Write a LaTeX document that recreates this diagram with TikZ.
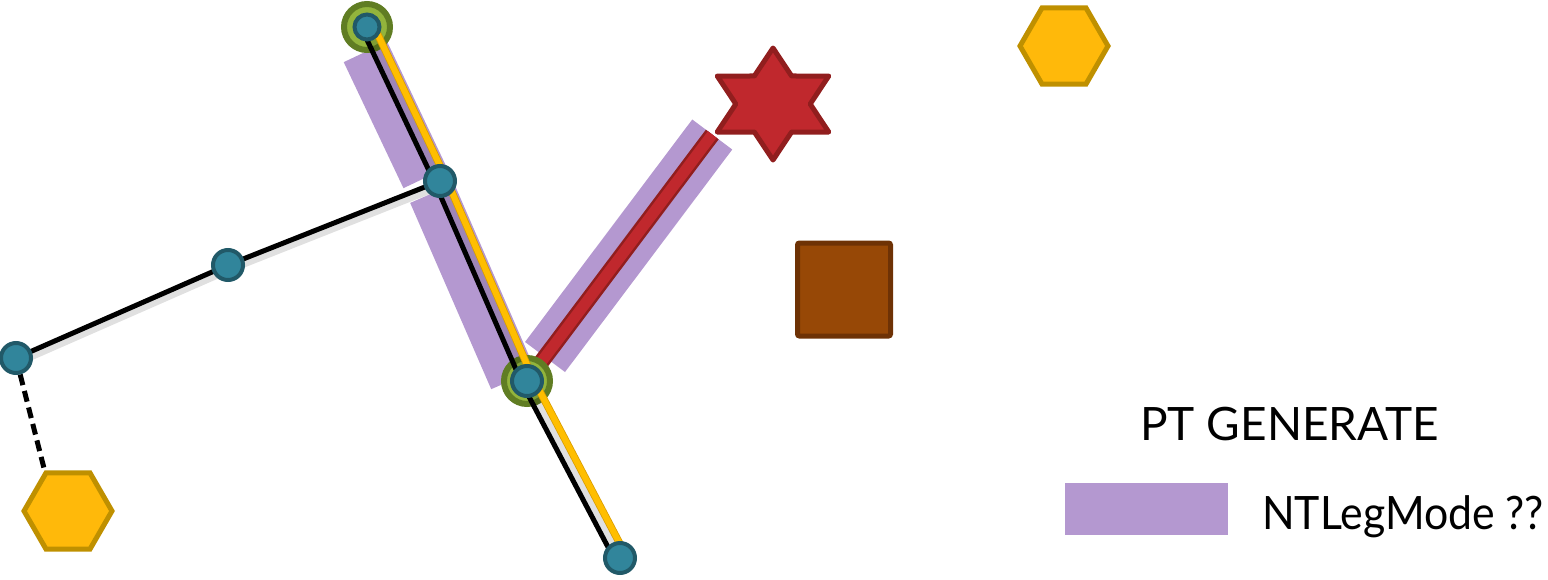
\documentclass[tikz,border=0pt]{standalone}
\usepackage{fontspec}
\setmainfont{Lato}
\usetikzlibrary{shapes.geometric,calc}
\definecolor{teal1}{RGB}{49,133,155}
\definecolor{teal2}{RGB}{33,89,104}
\definecolor{olive1}{RGB}{96,125,35}
\definecolor{olive2}{RGB}{146,180,60}
\definecolor{yel1}{RGB}{255,185,10}
\definecolor{yel2}{RGB}{191,144,0}
\definecolor{lyel1}{RGB}{255,190,0}
\definecolor{lyel2}{RGB}{215,155,0}
\definecolor{red1}{RGB}{192,40,45}
\definecolor{red2}{RGB}{145,30,30}
\definecolor{brn1}{RGB}{151,72,6}
\definecolor{brn2}{RGB}{110,50,5}
\definecolor{purp}{RGB}{180,152,208}
\pgfdeclarelayer{bg}\pgfdeclarelayer{mid}\pgfsetlayers{bg,mid,main}
\begin{document}
\begin{tikzpicture}[x=1pt,y=-1pt,
  tnode/.style={circle,fill=teal1,draw=teal2,line width=4pt,minimum size=30pt,inner sep=0pt},
  ringnode/.style={circle,fill=olive2,draw=olive1,line width=6pt,minimum size=46pt,inner sep=0pt},
  hexnode/.style={regular polygon,regular polygon sides=6,fill=yel1,draw=yel2,line width=5pt,minimum size=88pt,inner sep=0pt},
  band/.style={draw=purp,line width=48pt},
  blk/.style={draw=black,line width=5pt},
  yelline/.style={draw=lyel1,line width=6pt},
  yeledge/.style={draw=lyel2,line width=7.5pt},
  shad/.style={draw=black,opacity=0.12,line width=9pt},
  lbl/.style={inner sep=0pt,font=\fontsize{46}{56}\selectfont}]
\useasboundingbox (0,0) rectangle (1548,579);
% nodes
\node[tnode,minimum size=25pt] (A) at (367,27) {};
\node[tnode] (B) at (440,181) {};
\node[tnode] (C) at (228,265) {};
\node[tnode] (D) at (16,358) {};
\node[tnode] (E) at (527,381) {};
\node[tnode] (F) at (620,558) {};
\node[hexnode] (H1) at (68,511) {};
\node[hexnode] (H2) at (1064,46) {};
\begin{scope}[shift={(773,104)}]
\node[star,star points=6,star point ratio=1.732,minimum size=112pt,inner sep=0pt,
  fill=red1,draw=red2,line width=5pt,line join=round,xscale=1.15,transform shape] (S) at (0,0) {};
\end{scope}
\node[rectangle,fill=brn1,draw=brn2,line width=5pt,minimum size=93pt,inner sep=0pt,rounded corners=2pt] (Q) at (844,289.5) {};
\node[rectangle,fill=purp,minimum width=163pt,minimum height=52pt,inner sep=0pt] (L) at (1146.5,509) {};
\node[lbl,anchor=base west] (T1) at (1140,440) {PT GENERATE};
\node[lbl,anchor=base west] (T2) at (1262,529) {\scalebox{0.93}[1]{NTLegMode ??}};
% background: bands, red link, rings
\begin{pgfonlayer}{bg}
\draw[band,shorten <=22pt,shorten >=9pt,transform canvas={shift={(-11,5)}}] (A.center) -- (B.center);
\draw[band,shorten <=8pt,shorten >=7pt,transform canvas={shift={(-11,5)}}] (B.center) -- (E.center);
\draw[draw=purp,line width=50pt,shorten <=30pt] (E.center) -- (S.outer point 3);
\draw[draw=red2,line width=16pt] (E.center) -- (S.outer point 3);
\draw[draw=red1,line width=11pt] (E.center) -- (S.outer point 3);
\node[ringnode] (Ar) at (A.center) {};
\node[ringnode] (Er) at (E.center) {};
\end{pgfonlayer}
% links
\begin{pgfonlayer}{mid}
\draw[shad,transform canvas={shift={(3,3)}}] (D.center) -- (C.center);
\draw[shad,transform canvas={shift={(3,3)}}] (C.center) -- (B.center);
\draw[shad,transform canvas={shift={(-2,-1)}}] (A.center) -- (B.center);
\draw[shad,transform canvas={shift={(-2,-1)}}] (B.center) -- (E.center);
\draw[shad,transform canvas={shift={(-2,-1)}}] (E.center) -- (F.center);
\draw[blk] (D.center) -- (C.center);
\draw[blk] (C.center) -- (B.center);
\draw[blk,dash pattern=on 11pt off 6pt] (D.center) -- (H1.corner 2);
\draw[blk,transform canvas={shift={(-5,2.3)}}] (A.center) -- (B.center);
\draw[blk,transform canvas={shift={(-5,2.2)}}] (B.center) -- (E.center);
\draw[blk,transform canvas={shift={(-4.9,2.6)}}] (E.center) -- (F.center);
\draw[yeledge,transform canvas={shift={(5.9,-2.8)}}] (A.center) -- (B.center);
\draw[yeledge,transform canvas={shift={(6,-2.6)}}] (B.center) -- (E.center);
\draw[yeledge,transform canvas={shift={(5.8,-3)}}] (E.center) -- (F.center);
\draw[yelline,transform canvas={shift={(5.9,-2.8)}}] (A.center) -- (B.center);
\draw[yelline,transform canvas={shift={(6,-2.6)}}] (B.center) -- (E.center);
\draw[yelline,transform canvas={shift={(5.8,-3)}}] (E.center) -- (F.center);
\end{pgfonlayer}
\end{tikzpicture}
\end{document}
